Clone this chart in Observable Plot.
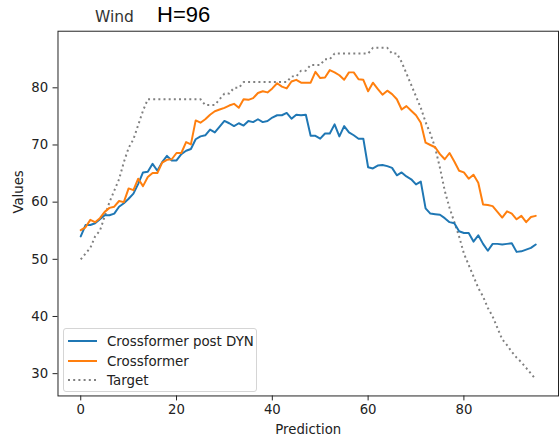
<!DOCTYPE html>
<html>
<head>
<meta charset="utf-8">
<script src="https://cdn.jsdelivr.net/npm/d3@7"></script>
<script src="https://cdn.jsdelivr.net/npm/@observablehq/plot@0.6"></script>
<style>
  html, body { margin: 0; padding: 0; background: #fff; overflow: hidden; width: 559px; height: 446px; }
  #wrap { position: relative; width: 559px; height: 446px; }
  .t { position: absolute; white-space: nowrap; line-height: 1; }
  #legend { position: absolute; left: 63px; top: 328px; width: 192px; height: 62px; border: 1px solid #d5d5d5; border-radius: 3px; background: rgba(255,255,255,0.85); font-family: "DejaVu Sans", sans-serif; font-size: 13.4px; color: #222; }
  .row { position: absolute; left: 4px; height: 20px; display: flex; align-items: center; }
  .row svg { margin-right: 10px; }
</style>
</head>
<body>
<div id="wrap">
  <div id="chart"></div>
  <div class="t" style="left:95px; top:10px; font-family:'DejaVu Sans',sans-serif; font-size:15.5px; color:#333;">Wind</div>
  <div class="t" style="left:157px; top:4px; font-family:'Liberation Sans',Arial,sans-serif; font-size:22px; color:#000;">H=96</div>
  <div id="legend"></div>
</div>
<script>
// ---- data ----
const seriesNames = ["Crossformer post DYN", "Crossformer", "Target"];
const seriesColors = ["#1f77b4", "#ff7f0e", "#808080"];

const postDyn = [
  54.0, 56.0, 56.0, 56.3, 57.0, 57.7, 57.7, 58.0, 59.2, 59.8,
  60.6, 61.5, 63.2, 65.2, 65.3, 66.7, 65.5, 67.0, 68.1, 67.3,
  67.3, 68.4, 69.0, 69.3, 71.0, 71.5, 71.7, 72.7, 72.2, 73.2,
  74.2, 73.8, 73.3, 73.8, 73.4, 74.2, 74.0, 74.5, 74.0, 74.2,
  74.8, 75.2, 75.2, 75.6, 74.6, 75.3, 75.2, 75.3, 71.6, 71.6,
  71.1, 72.0, 72.0, 73.6, 71.5, 73.3, 72.2, 71.7, 71.1, 71.1,
  66.1, 65.9, 66.4, 66.5, 66.3, 66.0, 64.7, 65.2, 64.5, 64.0,
  63.1, 63.6, 58.9, 58.0, 57.9, 57.8, 57.2, 56.5, 56.3, 54.9,
  54.6, 54.6, 53.1, 54.2, 52.7, 51.5, 52.7, 52.7, 52.6, 52.7,
  52.8, 51.3, 51.4, 51.7, 52.0, 52.6
];

const crossformer = [
  55.1, 55.6, 56.9, 56.5, 57.2, 58.3, 59.0, 59.2, 60.2, 60.0,
  62.4, 62.1, 64.1, 62.8, 64.4, 65.1, 65.1, 66.9, 67.4, 67.5,
  68.6, 68.6, 70.5, 70.1, 74.3, 73.9, 74.5, 75.3, 75.9, 76.2,
  76.5, 76.9, 77.2, 76.5, 78.0, 77.9, 78.2, 79.1, 79.4, 79.2,
  79.9, 80.8, 80.2, 79.9, 81.1, 81.4, 80.9, 80.9, 80.9, 82.8,
  81.7, 81.8, 83.1, 82.7, 82.2, 81.4, 82.7, 82.7, 81.5, 81.4,
  79.4, 80.9, 79.8, 78.8, 79.5, 78.9, 78.0, 76.2, 76.8, 76.0,
  75.2, 73.9, 70.4, 70.0, 69.6, 68.4, 67.5, 68.6, 67.1, 65.5,
  65.2, 64.1, 64.8, 63.4, 59.6, 59.5, 59.3, 58.3, 57.3, 58.4,
  58.0, 57.0, 57.6, 56.5, 57.4, 57.6
];

const target = [
  50, 51, 52, 54, 55, 57.5, 60, 62, 64, 67,
  69.5, 71, 73.5, 76, 78, 78, 78, 78, 78, 78,
  78, 78, 78, 78, 78, 78, 77, 77, 77, 78,
  79, 79, 80, 80, 81, 81, 81, 81, 81, 81,
  81, 81, 81, 81, 82, 82, 83, 83, 84, 84,
  84, 85, 85, 86, 86, 86, 86, 86, 86, 86,
  86, 87, 87, 87, 87, 86, 86, 84.5, 82.5, 80.5,
  78.5, 76.5, 74, 72, 69.5, 66, 62, 59, 56.5, 54,
  51, 49, 47, 45, 43.5, 41.5, 40, 38, 36, 35,
  33.8, 32.8, 32, 31, 30, 29
];

const xTicks = [0, 20, 40, 60, 80];
const yTicks = [30, 40, 50, 60, 70, 80];
const xLabel = "Prediction";
const yLabel = "Values";

// ---- chart ----
const seriesData = [postDyn, crossformer, target];
const idx = (d, i) => i;
const val = d => d;

const chart = Plot.plot({
  width: 564,
  height: 446,
  marginLeft: 58,
  marginRight: 1,
  marginTop: 31,
  marginBottom: 47,
  style: { fontFamily: "DejaVu Sans, sans-serif", fontSize: "13.4px", color: "#222", background: "transparent" },
  x: { domain: [-4.75, 99.75], ticks: xTicks, tickSize: 5, tickPadding: 4, label: null },
  y: { domain: [26.1, 89.9], ticks: yTicks, tickSize: 5, tickPadding: 5, label: null },
  marks: [
    Plot.line(target, { x: idx, y: val, stroke: seriesColors[2], strokeWidth: 2, strokeDasharray: "2,3.2", strokeLinecap: "butt" }),
    Plot.line(postDyn, { x: idx, y: val, stroke: seriesColors[0], strokeWidth: 2 }),
    Plot.line(crossformer, { x: idx, y: val, stroke: seriesColors[1], strokeWidth: 2 }),
    Plot.frame({ stroke: "#222", strokeWidth: 1 }),
    Plot.text([xLabel], { text: d => d, frameAnchor: "bottom", dy: 34, lineAnchor: "middle", fill: "#222" }),
    Plot.text([yLabel], { text: d => d, frameAnchor: "left", dx: -40, rotate: -90, lineAnchor: "middle", fill: "#222" })
  ]
});
document.getElementById("chart").appendChild(chart);

// ---- legend ----
const legend = document.getElementById("legend");
const dashes = [null, null, "2,3.2"];
const rowTops = [2, 22, 41];
seriesNames.forEach((name, k) => {
  const row = document.createElement("div");
  row.className = "row";
  row.style.top = rowTops[k] + "px";
  row.innerHTML = `<svg width="29" height="4"><line x1="0" y1="2" x2="29" y2="2" stroke="${seriesColors[k]}" stroke-width="2" ${dashes[k] ? `stroke-dasharray="${dashes[k]}"` : ""}/></svg><span>${name}</span>`;
  legend.appendChild(row);
});
</script>
</body>
</html>
